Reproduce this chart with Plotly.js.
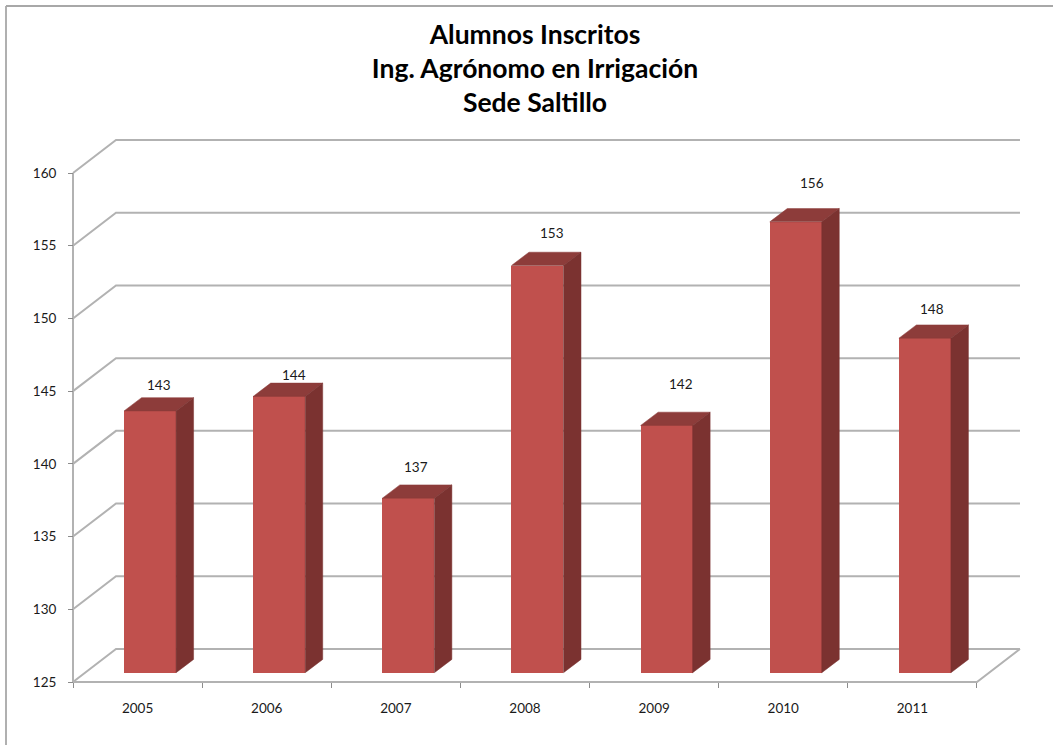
<!DOCTYPE html>
<html lang="es">
<head>
<meta charset="utf-8">
<title>Alumnos Inscritos</title>
<script src="https://cdn.plot.ly/plotly-3.0.1.min.js"></script>
<style>
  html, body { margin: 0; padding: 0; background: #fff; overflow: hidden; }
  #chart { width: 1053px; height: 745px; }
</style>
</head>
<body>
<div id="chart"></div>
<script>
// Enrolment per year
const years = [2005, 2006, 2007, 2008, 2009, 2010, 2011];
const enrolled = [143, 144, 137, 153, 142, 156, 148];
const valueTicks = [125, 130, 135, 140, 145, 150, 155, 160];
const titleLines = ['Alumnos Inscritos', 'Ing. Agrónomo en Irrigación', 'Sede Saltillo'];

// Free placement of the value labels, in pixels from the top centre of each bar
const labelShiftX = [9, 15, 8, 15, 14, 16, 7];
const labelShiftY = [26, 21, 31, 33, 41.5, 39, 29];

// The subplot reaches a little past the box so its edge lines keep their full width
const W = 1053, H = 745;
const PAD = 10;
const M = { l: 73 - PAD, r: 32 - PAD, t: 140 - PAD, b: 63 - PAD };
const pxPerYear = 129.14, pxPerUnit = 14.543;
const plotW = W - M.l - M.r, plotH = H - M.t - M.b;
const spanX = plotW / pxPerYear, spanY = plotH / pxPerUnit;
const padX = PAD / pxPerYear, padY = PAD / pxPerUnit;

// Oblique projection of the chart box and of the bars
const wallDx = 43 / pxPerYear, wallDy = 33 / pxPerUnit;
const barDx = 17.5 / pxPerYear, barDy = 13.3 / pxPerUnit;
const barShiftX = 12.5 / pxPerYear, barShiftY = 9.3 / pxPerUnit;
const barWidth = 52 / pxPerYear;

const x0 = years[0] - 0.5;
const xEnd = x0 + years.length;
const yMin = valueTicks[0], yMax = valueTicks[valueTicks.length - 1];

const GRID = '#b2b2b2';
const FONT = 'Lato, "Open Sans", sans-serif';
const TICK_FONT = { family: FONT, size: 13.5, color: '#1a1a1a' };
const traces = [];

function wall(xs, ys) {
  traces.push({
    type: 'scatter', mode: 'lines', x: xs, y: ys, xaxis: 'x', yaxis: 'y',
    line: { color: GRID, width: 2 }, hoverinfo: 'skip', showlegend: false
  });
}

// Back wall gridlines with their return along the side wall
valueTicks.forEach(v => {
  wall([x0, x0 + wallDx, xEnd + wallDx], [v, v + wallDy, v + wallDy]);
});
// Front of the floor, its right edge, and the value axis
wall([x0, xEnd, xEnd + wallDx], [yMin, yMin, yMin + wallDy]);
wall([x0, x0], [yMin, yMax]);

// Front faces
traces.push({
  type: 'bar', x: years, y: enrolled.map(v => v - yMin), base: yMin,
  width: barWidth, xaxis: 'x2', yaxis: 'y2',
  marker: { color: '#c0504d', line: { width: 0 } },
  hovertemplate: '%{x}: %{customdata}<extra></extra>', customdata: enrolled, showlegend: false
});

// Top and side faces of each bar
years.forEach((yr, i) => {
  const v = enrolled[i];
  const l = yr - barWidth / 2, r = yr + barWidth / 2;
  const face = (xs, ys, color) => traces.push({
    type: 'scatter', mode: 'lines', x: xs, y: ys, xaxis: 'x2', yaxis: 'y2',
    fill: 'toself', fillcolor: color, line: { color: color, width: 0.5 },
    hoverinfo: 'skip', showlegend: false
  });
  face([l, r, r + barDx, l + barDx, l], [v, v, v + barDy, v + barDy, v], '#8d3c3a');
  face([r, r + barDx, r + barDx, r, r], [yMin, yMin + barDy, v + barDy, v, yMin], '#7b3230');
});

const annotations = years.map((yr, i) => ({
  xref: 'x2', yref: 'y2', x: yr, y: enrolled[i], text: String(enrolled[i]),
  showarrow: false, xanchor: 'center', yanchor: 'middle',
  xshift: labelShiftX[i], yshift: labelShiftY[i],
  font: TICK_FONT
}));

// Outer frame: only the left and top edges fall inside the page
const frameX = (6 - M.l) / plotW;
const frameY = 1 + (M.t - 6) / plotH;
const frameBottom = -M.b / plotH, frameRight = 1 + M.r / plotW;
const frame = { color: '#a8a8a8', width: 1.8 };
const shapes = [
  { type: 'line', xref: 'paper', yref: 'paper', x0: frameX, x1: frameX, y0: frameBottom, y1: frameY, line: frame },
  { type: 'line', xref: 'paper', yref: 'paper', x0: frameX, x1: frameRight, y0: frameY, y1: frameY, line: frame }
];

const layout = {
  width: W, height: H,
  margin: M,
  paper_bgcolor: '#fff', plot_bgcolor: 'rgba(0,0,0,0)',
  showlegend: false,
  title: {
    text: titleLines.join('<br>'),
    xref: 'paper', yref: 'container', x: (535 - M.l) / plotW, xanchor: 'center',
    y: 1 - 43.5 / H, yanchor: 'top',
    font: { family: FONT, size: 26.5, color: '#000', weight: 700 }
  },
  xaxis: {
    range: [x0 - padX, x0 - padX + spanX],
    anchor: 'free', position: PAD / plotH,
    tickmode: 'array', tickvals: years, ticktext: years.map(String),
    ticks: '', showgrid: false, zeroline: false, showline: false, ticklabelstandoff: 16,
    tickfont: TICK_FONT,
    minor: {
      tickmode: 'array', tickvals: years.map(y => y - 0.5).concat([xEnd]),
      ticks: 'outside', ticklen: 5, tickwidth: 1, tickcolor: '#8c8c8c', showgrid: false
    },
    fixedrange: true
  },
  yaxis: {
    range: [yMin - padY, yMin - padY + spanY],
    anchor: 'free', position: PAD / plotW,
    tickmode: 'array', tickvals: valueTicks,
    ticks: 'outside', ticklen: 5, tickwidth: 1, tickcolor: '#8c8c8c',
    showgrid: false, zeroline: false, showline: false, ticklabelstandoff: 9, ticklabelshift: 2.5,
    tickfont: TICK_FONT,
    fixedrange: true
  },
  // Bars stand slightly forward of the back wall, so they sit on shifted twin axes
  xaxis2: {
    overlaying: 'x', visible: false, fixedrange: true,
    range: [x0 - padX - barShiftX, x0 - padX - barShiftX + spanX]
  },
  yaxis2: {
    overlaying: 'y', visible: false, fixedrange: true,
    range: [yMin - padY - barShiftY, yMin - padY - barShiftY + spanY]
  },
  bargap: 0,
  annotations: annotations,
  shapes: shapes
};

Plotly.newPlot('chart', traces, layout, { displayModeBar: false, responsive: false });
</script>
</body>
</html>
